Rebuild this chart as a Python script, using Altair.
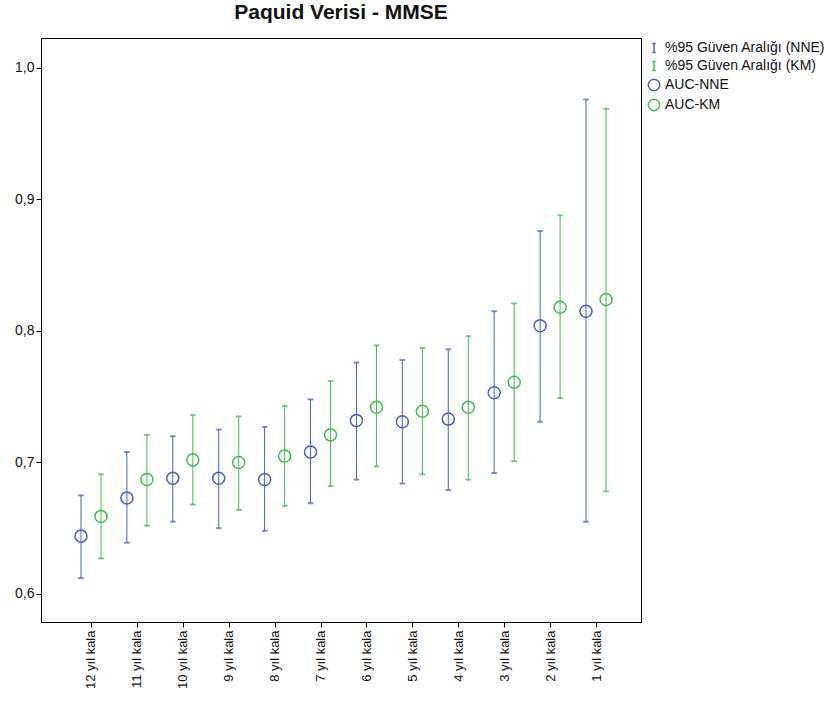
import altair as alt
import pandas as pd

# Time-before-diagnosis categories (left to right)
labels = ["12 yıl kala", "11 yıl kala", "10 yıl kala", "9 yıl kala", "8 yıl kala", "7 yıl kala",
          "6 yıl kala", "5 yıl kala", "4 yıl kala", "3 yıl kala", "2 yıl kala", "1 yıl kala"]

# AUC estimates with 95% confidence limits, NNE method
nne_auc = [0.644, 0.673, 0.688, 0.688, 0.687, 0.708, 0.732, 0.731, 0.733, 0.753, 0.804, 0.815]
nne_lo = [0.612, 0.639, 0.655, 0.650, 0.648, 0.669, 0.687, 0.684, 0.679, 0.692, 0.731, 0.655]
nne_hi = [0.675, 0.708, 0.720, 0.725, 0.727, 0.748, 0.776, 0.778, 0.786, 0.815, 0.876, 0.976]

# AUC estimates with 95% confidence limits, KM method
km_auc = [0.659, 0.687, 0.702, 0.700, 0.705, 0.721, 0.742, 0.739, 0.742, 0.761, 0.818, 0.824]
km_lo = [0.627, 0.652, 0.668, 0.664, 0.667, 0.682, 0.697, 0.691, 0.687, 0.701, 0.749, 0.678]
km_hi = [0.691, 0.721, 0.736, 0.735, 0.743, 0.762, 0.789, 0.787, 0.796, 0.821, 0.888, 0.969]

ci_names = {"NNE": "%95 Güven Aralığı (NNE)", "KM": "%95 Güven Aralığı (KM)"}
pt_names = {"NNE": "AUC-NNE", "KM": "AUC-KM"}
dodge = {"NNE": -0.218, "KM": 0.218}

rows_ci, rows_pt = [], []
for method, auc, lo, hi in [("NNE", nne_auc, nne_lo, nne_hi), ("KM", km_auc, km_lo, km_hi)]:
    for i in range(len(labels)):
        pos = i + dodge[method]
        rows_ci.append({"pos": pos, "lo": lo[i], "hi": hi[i], "kind": ci_names[method]})
        rows_pt.append({"pos": pos, "auc": auc[i], "kind": pt_names[method]})
ci_df = pd.DataFrame(rows_ci)
pt_df = pd.DataFrame(rows_pt)

BLUE = "#4a5fc1"
GREEN = "#3fbf4f"
FONT = "Liberation Sans"

kind_domain = [ci_names["NNE"], ci_names["KM"], pt_names["NNE"], pt_names["KM"]]
ibeam = "M-0.3,-0.8H0.3M0,-0.8V0.8M-0.3,0.8H0.3"
stroke_scale = alt.Scale(domain=kind_domain, range=[BLUE, GREEN, BLUE, GREEN])
shape_scale = alt.Scale(domain=kind_domain, range=[ibeam, ibeam, "circle", "circle"])

legend = alt.Legend(
    title=None, orient="none", legendX=606, legendY=3,
    labelFont=FONT, labelFontSize=14, labelColor="#111", labelLimit=220,
    symbolSize=130, symbolStrokeWidth=1.5, symbolFillColor="transparent",
    symbolOpacity=1, rowPadding=2, labelOffset=4,
)

label_js = "[" + ",".join("'" + s + "'" for s in labels) + "]"
x_enc = alt.X(
    "pos:Q",
    scale=alt.Scale(domain=[-1.089, 11.98], nice=False, zero=False),
    axis=alt.Axis(
        title=None, values=list(range(len(labels))), grid=False,
        labelExpr=label_js + "[round(datum.value)]",
        labelAngle=270, labelFont=FONT, labelFontSize=13, labelColor="#111",
        labelPadding=3, tickSize=5, tickColor="black", domainColor="black",
    ),
)
y_scale = alt.Scale(domain=[0.5787, 1.0228], nice=False, zero=False)
y_axis = alt.Axis(
    title=None, values=[0.6, 0.7, 0.8, 0.9, 1.0], grid=False,
    labelExpr="replace(format(datum.value, '.1f'), '.', ',')",
    labelFont=FONT, labelFontSize=14, labelColor="#111", labelPadding=2,
    tickSize=5, tickColor="black", domainColor="black",
)

stroke_enc = alt.Stroke("kind:N", scale=stroke_scale, legend=legend)

# hollow AUC markers
points = alt.Chart(pt_df).mark_point(filled=False, size=145, strokeWidth=1.5, opacity=1).encode(
    x=x_enc,
    y=alt.Y("auc:Q", scale=y_scale, axis=y_axis),
    stroke=stroke_enc,
    shape=alt.Shape("kind:N", scale=shape_scale, legend=legend),
)
# confidence interval whiskers and caps
bars = alt.Chart(ci_df).mark_rule(strokeWidth=1).encode(
    x=x_enc,
    y=alt.Y("lo:Q", scale=y_scale, axis=y_axis),
    y2="hi:Q",
    stroke=stroke_enc,
)
cap_lo = alt.Chart(ci_df).mark_tick(orient="horizontal", size=5, thickness=1).encode(
    x=x_enc, y=alt.Y("lo:Q", scale=y_scale, axis=y_axis), stroke=stroke_enc,
)
cap_hi = alt.Chart(ci_df).mark_tick(orient="horizontal", size=5, thickness=1).encode(
    x=x_enc, y=alt.Y("hi:Q", scale=y_scale, axis=y_axis), stroke=stroke_enc,
)

chart = (
    alt.layer(points, bars, cap_lo, cap_hi)
    .properties(
        width=600, height=584,
        title=alt.TitleParams("Paquid Verisi - MMSE", font=FONT, fontSize=21,
                              fontWeight="bold", color="#111", anchor="middle", offset=15),
        autosize=alt.AutoSizeParams(type="none"),
        padding={"left": 41, "top": 38, "right": 195, "bottom": 86},
    )
    .configure_view(stroke="black", strokeWidth=1)
)

chart.save("out.html", embed_options={"renderer": "svg", "actions": False})
